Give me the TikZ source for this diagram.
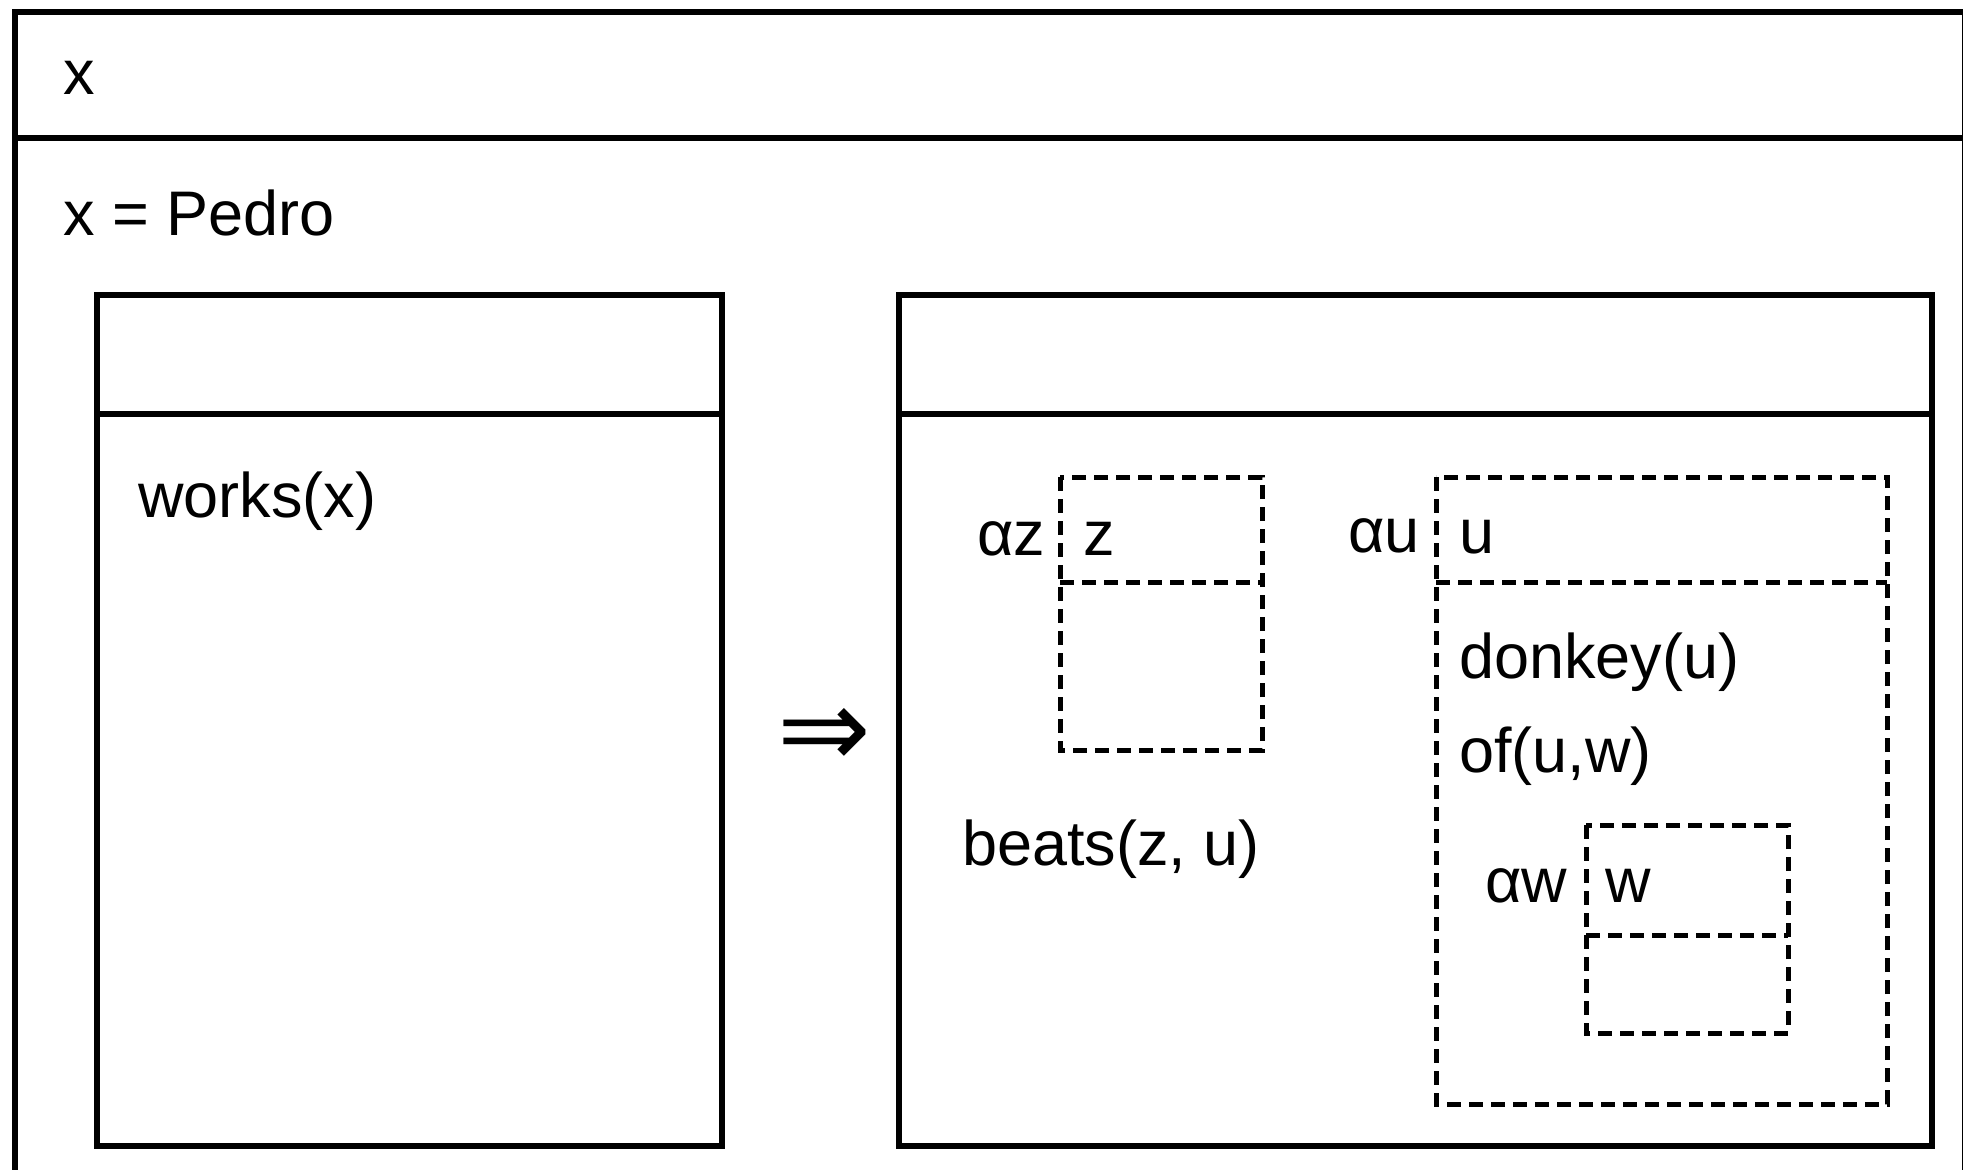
\documentclass[tikz,border=0pt]{standalone}
\usepackage{fontspec}
\setmainfont{Liberation Sans}
\newfontfamily\symfont{DejaVu Sans}
\begin{document}
\begin{tikzpicture}[x=1pt,y=-1pt,
  solidline/.style={line width=6pt,draw=black},
  dashline/.style={line width=5pt,draw=black,dash pattern=on 14pt off 8pt},
  lbl/.style={anchor=base west,inner sep=0pt,font=\fontsize{63}{75}\selectfont}]
\useasboundingbox (0,0) rectangle (1963,1170);
% outer box
\draw[solidline] (1966,12) -- (15,12) -- (15,1200);
\draw[solidline] (15,138) -- (1966,138);
\draw[solidline] (1965,12) -- (1965,1200);
\node[lbl] (hx) at (63,94) {x};
\node[lbl] (pedro) at (63,235) {x = Pedro};
% left box
\draw[solidline] (97,295) rectangle (722,1146);
\draw[solidline] (97,414) -- (722,414);
\node[lbl] (works) at (138,517) {works(x)};
% arrow
\node[inner sep=0pt,font=\symfont\fontsize{112}{112}\selectfont] (impl) at (824,738) {⇒};
% right box
\draw[solidline] (899,295) rectangle (1932,1146);
\draw[solidline] (899,414) -- (1932,414);
% z box
\draw[dashline] (1060,477) rectangle (1262,750);
\draw[dashline] (1060,582) -- (1262,582);
\node[lbl] (az) at (977,555) {αz};
\node[lbl] (z) at (1083,555) {z};
\node[lbl] (beats) at (962,865) {beats(z, u)};
% u box
\draw[dashline] (1436,477) rectangle (1887,1104);
\draw[dashline] (1436,582) -- (1887,582);
\node[lbl] (au) at (1348,552) {αu};
\node[lbl] (u) at (1459,553) {u};
\node[lbl] (donkey) at (1459,678) {donkey(u)};
\node[lbl] (of) at (1459,772) {of(u,w)};
% w box
\draw[dashline] (1586,825) rectangle (1788,1033);
\draw[dashline] (1586,935) -- (1788,935);
\node[lbl] (aw) at (1485,902) {αw};
\node[lbl] (w) at (1605,902) {w};
\end{tikzpicture}
\end{document}
